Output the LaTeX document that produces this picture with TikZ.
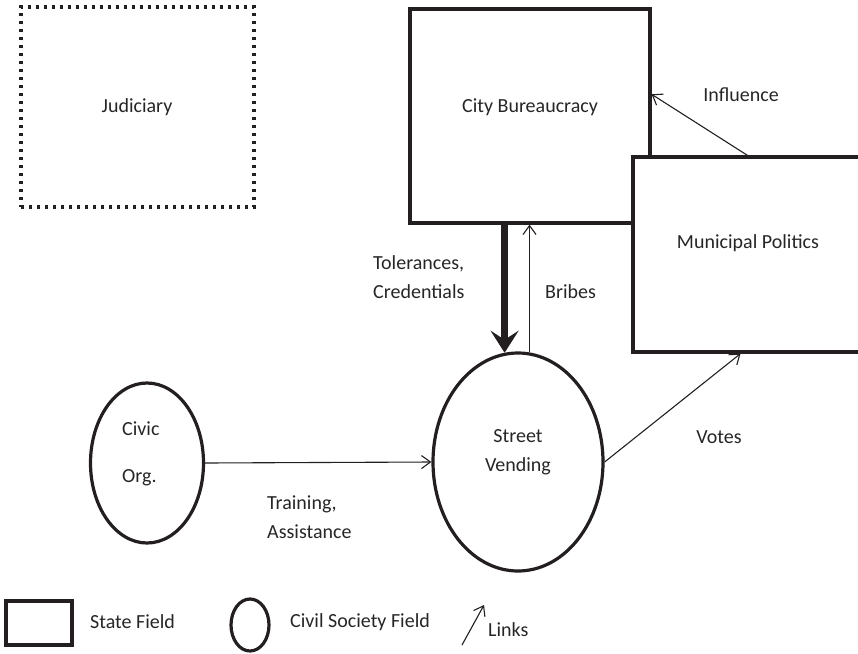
\documentclass[tikz,border=0pt]{standalone}
\usepackage{fontspec}
\setmainfont{Carlito}
\usepackage{tikz}
\usetikzlibrary{calc,arrows.meta,shapes.geometric}
\definecolor{ink}{HTML}{231F20}
\definecolor{txt}{HTML}{262626}
\tikzset{
  statebox/.style={draw=ink, line width=3.2pt, rectangle, inner sep=0pt, fill=white},
  civicell/.style={draw=ink, line width=3.2pt, ellipse, inner sep=0pt},
  dotbox/.style={draw=ink, line width=3.4pt, dash pattern=on 3.4pt off 4.6pt, rectangle, inner sep=0pt},
  link/.style={draw=ink, line width=1.1pt, -{Straight Barb[length=9pt,width=13pt]}},
  strong/.style={draw=ink, line width=7pt, -{Stealth[length=22pt,width=28pt,inset=9pt]}},
  lab/.style={text=txt, font=\fontsize{20}{29}\selectfont, inner sep=0pt},
}

\begin{document}
\begin{tikzpicture}[x=1pt, y=-1pt]
  \useasboundingbox (0,0) rectangle (858,653);

  % fields
  \node[dotbox, minimum width=233pt, minimum height=200pt] (judiciary) at (137.5,107) {};
  \node[statebox, minimum width=240pt, minimum height=214pt] (bureau) at (530,116) {};
  \node[statebox, minimum width=229pt, minimum height=195pt] (politics) at (747.5,254.5) {};
  \node[civicell, minimum width=170pt, minimum height=218pt] (vending) at (518,462) {};
  \node[civicell, minimum width=113pt, minimum height=160pt] (civic) at (147,463) {};

  \node[lab] (judtxt) at (137,107) {Judiciary};
  \node[lab] (bureautxt) at (530,107) {City Bureaucracy};
  \node[lab] (poltxt) at (748,243) {Municipal Politics};
  \node[lab, align=center] (vendtxt) at (518,452) {Street\\Vending};
  \node[lab, anchor=west] (civtxt) at (122,429) {Civic};
  \node[lab, anchor=west] (orgtxt) at (122,478) {Org.};

  % links
  \draw[strong] (bureau.south -| vending.97) -- (vending.97);
  \draw[link] (vending.84) -- (vending.84 |- bureau.south);
  \draw[link] (politics.north) -- ($(bureau.north east)!0.4!(bureau.south east)$);
  \draw[link] (vending.east) -- ($(politics.south west)!0.47!(politics.south east)$);
  \draw[link] (civic.east) -- (vending.west);

  \node[lab, anchor=west, align=left] (toltxt) at (373,277.5) {Tolerances,\\Credentials};
  \node[lab, anchor=west] (bribetxt) at (545,292) {Bribes};
  \node[lab] (inflntxt) at (741,95) {Influence};
  \node[lab] (votetxt) at (719,437) {Votes};
  \node[lab, anchor=west, align=left] (traintxt) at (267,517.5) {Training,\\Assistance};

  % legend
  \node[statebox, minimum width=66pt, minimum height=44pt] (keystate) at (39,623) {};
  \node[lab, anchor=west] (keystatetxt) at (90,622) {State Field};
  \node[civicell, minimum width=38pt, minimum height=52pt] (keycivil) at (250,625) {};
  \node[lab, anchor=west] (keyciviltxt) at (290,622) {Civil Society Field};
  \coordinate (keylink0) at (462,645);
  \coordinate (keylink1) at (484,605);
  \draw[link] (keylink0) -- (keylink1);
  \node[lab, anchor=west] (keylinktxt) at (488,630) {Links};
\end{tikzpicture}
\end{document}
